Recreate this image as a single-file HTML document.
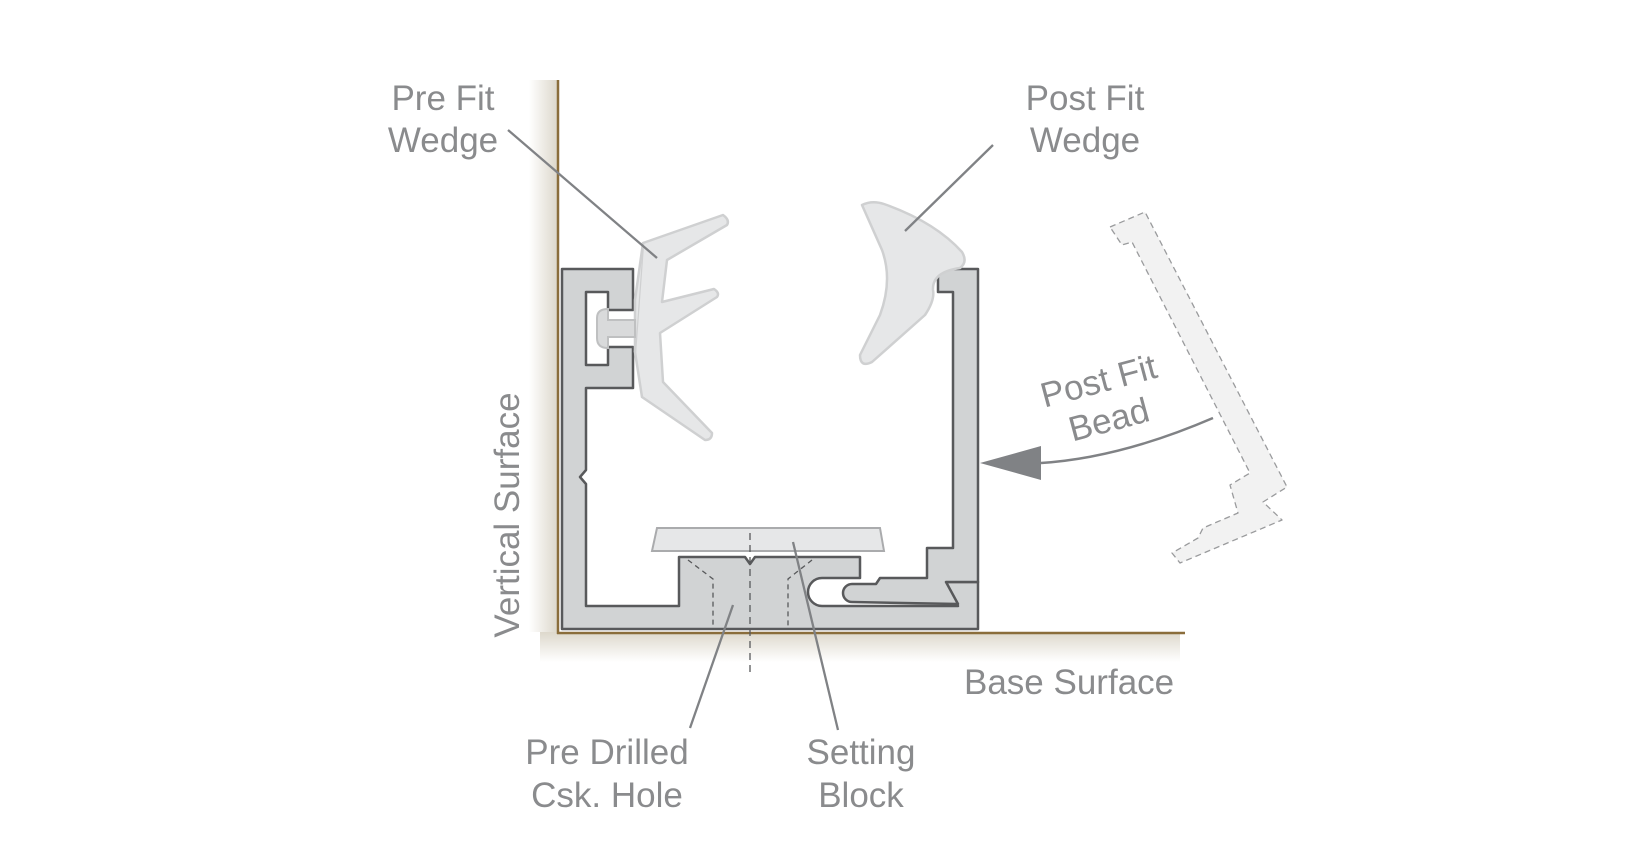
<!DOCTYPE html>
<html><head><meta charset="utf-8"><style>
html,body{margin:0;padding:0;background:#fff;}
svg{display:block;}
text{font-family:"Liberation Sans",sans-serif;fill:#8a8b8d;font-size:35px;}
</style></head><body>
<svg width="1639" height="865" viewBox="0 0 1639 865" xmlns="http://www.w3.org/2000/svg">
<defs>
<linearGradient id="wsh" x1="0" x2="1" y1="0" y2="0">
<stop offset="0" stop-color="#fff"/><stop offset="1" stop-color="#ddd8cc"/></linearGradient>
<linearGradient id="bsh" x1="0" x2="0" y1="0" y2="1">
<stop offset="0" stop-color="#ddd8cc"/><stop offset="1" stop-color="#fff"/></linearGradient>
</defs>
<rect x="529" y="80" width="28" height="552" fill="url(#wsh)"/>
<rect x="540" y="632" width="640" height="30" fill="url(#bsh)"/>
<line x1="558" y1="80" x2="558" y2="634" stroke="#8a6d3b" stroke-width="2.5"/>
<line x1="557" y1="633" x2="1185" y2="633" stroke="#8a6d3b" stroke-width="2.5"/>

<!-- profile -->
<path d="M562,269 H633 V310 H608 V292 H586 V365 H608 V347 H633 V388 H586 V470 L580,477 L586,484 V606 H679 V557 H745 L750,564 L755,557 H860 V578 H822 A14,14 0 0 0 822,606 H958 L946,582 H978 V629 H562 Z" fill="#d1d3d4" stroke="#58595b" stroke-width="2.5" stroke-linejoin="round"/>
<path d="M978,582 V269 H938 V292 H953 V548 H927 V578 H880 L876,584 H852 A9,9 0 0 0 852,602 L958,604 L946,582 Z" fill="#d1d3d4" stroke="#58595b" stroke-width="2.5" stroke-linejoin="round"/>

<!-- pre fit wedge -->
<path d="M643,243 L723,215 Q730,220 727,225 L667,260 L662,302 L714,289 Q720,293 717,297 L660,333 L663,382 L712,433 Q712,440 705,440 L642,397 L635,352 Z" fill="#e6e7e8" stroke="#cfd0d1" stroke-width="2.5" stroke-linejoin="round"/>
<path d="M643,243 L635,300 L635,352" fill="#e6e7e8" stroke="#cfd0d1" stroke-width="2.5"/>
<path d="M635,320 H608 V309 Q597,309 597,318 V338 Q597,348 608,348 V337 H635 Z" fill="#d9dadb" stroke="#bfc0c1" stroke-width="2"/>

<!-- post fit wedge -->
<path d="M862,205 Q872,200 884,204 Q935,222 962,252 Q968,262 960,268 Q932,272 933,290 Q935,300 925,315 L872,362 Q860,368 860,355 L880,315 Q893,280 882,250 Z" fill="#e6e7e8" stroke="#cfd0d1" stroke-width="2.5" stroke-linejoin="round"/>

<path d="M688,560 L713,579 V626 M812,560 L788,579 V626" fill="none" stroke="#58595b" stroke-width="1.3" stroke-dasharray="5,4"/>
<path d="M657,528 H880 L884,551 H652 Z" fill="#e6e7e8" stroke="#aaabad" stroke-width="2"/>
<line x1="750" y1="533" x2="750" y2="675" stroke="#58595b" stroke-width="1.3" stroke-dasharray="7,5"/>

<path d="M1110,227 L1145,212 L1287,487 L1263,502 L1282,520 L1180,563 L1172,553 L1198,538 L1203,528 L1238,513 L1230,485 L1250,473 L1132,242 L1122,245 Z" fill="#f2f2f2" stroke="#9a9b9d" stroke-width="1.3" stroke-dasharray="6,4" stroke-linejoin="round"/>
<path d="M1041,463 Q1120,458 1213,418" fill="none" stroke="#808285" stroke-width="2.5"/>
<path d="M980,463 L1041,446 L1041,480 Z" fill="#808285"/>

<g stroke="#808285" stroke-width="2.3">
<line x1="508" y1="130" x2="657" y2="258"/>
<line x1="993" y1="145" x2="905" y2="231"/>
<line x1="690" y1="728" x2="733" y2="605"/>
<line x1="838" y1="730" x2="793" y2="542"/>
</g>

<text x="443" y="110" text-anchor="middle">Pre Fit</text>
<text x="443" y="152" text-anchor="middle">Wedge</text>
<text x="1085" y="110" text-anchor="middle">Post Fit</text>
<text x="1085" y="152" text-anchor="middle">Wedge</text>
<text x="519" y="515" text-anchor="middle" transform="rotate(-90 519 515)">Vertical Surface</text>
<text x="964" y="694">Base Surface</text>
<text x="607" y="764" text-anchor="middle">Pre Drilled</text>
<text x="607" y="807" text-anchor="middle">Csk. Hole</text>
<text x="861" y="764" text-anchor="middle">Setting</text>
<text x="861" y="807" text-anchor="middle">Block</text>
<g transform="rotate(-15 1105 405)">
<text x="1105" y="392" text-anchor="middle">Post Fit</text>
<text x="1105" y="432" text-anchor="middle">Bead</text>
</g>
</svg>
</body></html>
